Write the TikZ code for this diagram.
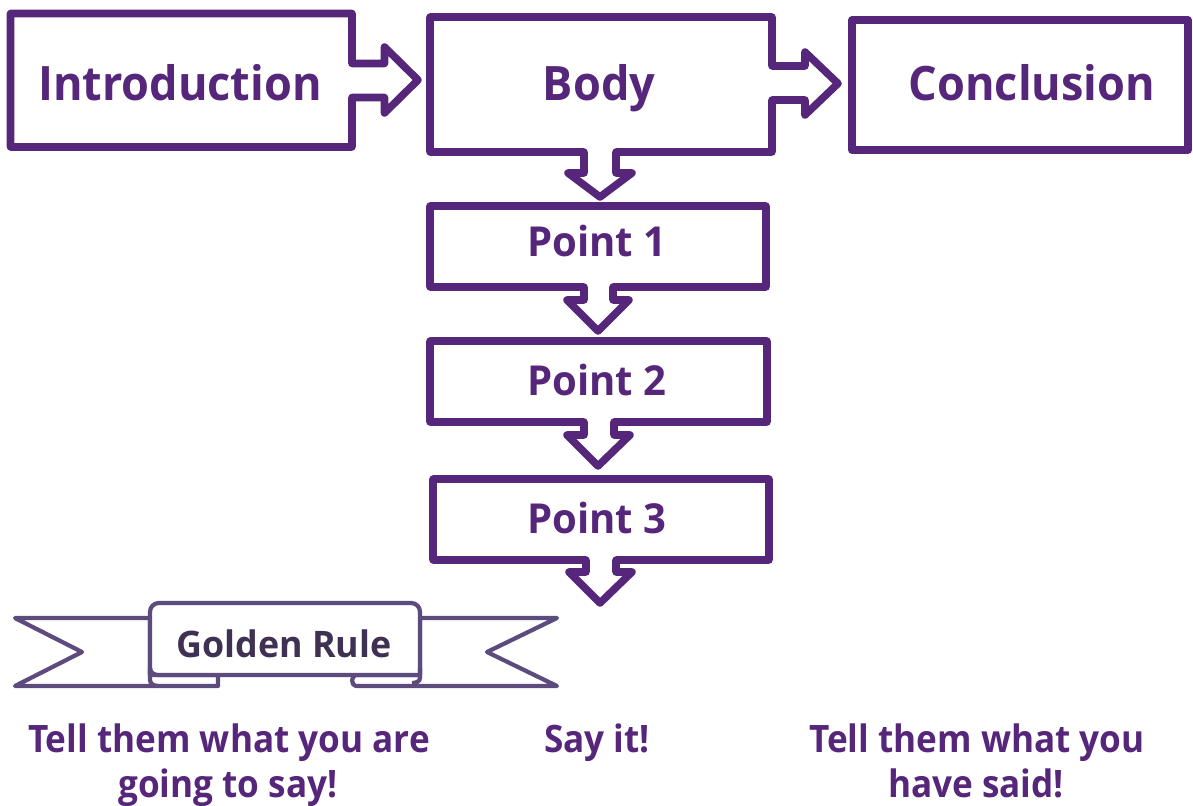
\documentclass[tikz,border=0pt]{standalone}
\usepackage{fontspec}
\setmainfont{Open Sans}
\definecolor{vio}{RGB}{86,38,122}
\definecolor{ribbon}{RGB}{94,75,126}
\definecolor{ribbontext}{RGB}{63,49,81}
\tikzset{
  box/.style={draw=vio, line width=4.3pt, line join=round, fill=white},
  band/.style={draw=ribbon, line width=2.4pt, line join=round, fill=white},
  bigtxt/.style={text=vio, font=\bfseries\fontsize{27}{32}\selectfont, anchor=base, inner sep=0pt, xscale=0.95},
  pttxt/.style={text=vio, font=\bfseries\fontsize{23.5}{28}\selectfont, anchor=base, inner sep=0pt, xscale=0.97},
  ruletxt/.style={text=ribbontext, font=\bfseries\fontsize{20.8}{24}\selectfont, anchor=base, inner sep=0pt, xscale=0.98},
  notetxt/.style={text=vio, font=\bfseries\fontsize{21.5}{26}\selectfont, anchor=base, inner sep=0pt, xscale=0.93},
}
\begin{document}
\begin{tikzpicture}[x=0.02cm, y=-0.02cm]
\useasboundingbox (0,0) rectangle (1193,805);

% Introduction with right arrow callout
\draw[box] (10.5,13.5) -- (352,13.5) -- (352,63.5) -- (384.5,63.5) -- (384.5,47)
  -- (418,80) -- (384.5,113) -- (384.5,97.5) -- (352,97.5) -- (352,147) -- (10.5,147) -- cycle;
% Body with right and down arrow callouts
\draw[box] (430,17) -- (772,17) -- (772,66) -- (805,66) -- (805,52) -- (838,83.5)
  -- (805,115) -- (805,100) -- (772,100) -- (772,152) -- (616,152) -- (616,173)
  -- (632,173) -- (600,197) -- (568,173) -- (584,173) -- (584,152) -- (430,152) -- cycle;
% Conclusion
\draw[box] (852,20) rectangle (1188,150);
% Points with down arrow callouts
\draw[box] (430,206) -- (766,206) -- (766,287) -- (613,287) -- (613,300) -- (629,300)
  -- (598,331) -- (567,300) -- (584,300) -- (584,287) -- (430,287) -- cycle;
\draw[box] (430,341) -- (767,341) -- (767,422) -- (614,422) -- (614,435) -- (630,435)
  -- (598,466) -- (567,435) -- (584,435) -- (584,422) -- (430,422) -- cycle;
\draw[box] (433,479) -- (769,479) -- (769,560) -- (616,560) -- (616,572) -- (632,572)
  -- (600,603) -- (569,572) -- (586,572) -- (586,560) -- (433,560) -- cycle;

\node[bigtxt] (intro) at (180,100) {Introduction};
\node[bigtxt] (body)  at (599,100) {Body};
\node[bigtxt] (concl) at (1032,100) {Conclusion};
\node[pttxt] (p1) at (597,256) {Point 1};
\node[pttxt] (p2) at (597,395) {Point 2};
\node[pttxt] (p3) at (597,533) {Point 3};

% Golden Rule ribbon: wings, centre panel, folds
\draw[band] (150,618) -- (15,618) -- (82,652) -- (15,686) -- (218,686) -- (218,675) -- (150,675) -- cycle;
\draw[band] (420,618) -- (557,618) -- (487,652) -- (557,686) -- (356,686)
  to[out=180,in=180,looseness=1.2] (356,675) -- (420,675) -- cycle;
\draw[band, rounded corners=5pt] (150,675) -- (150,603) -- (420,603) -- (420,675);
\draw[band, fill=none] (150,668) -- (150,680) to[out=-90,in=180] (158,686);
\draw[band, fill=none] (150,668) to[out=-90,in=180] (158,675) -- (420,675);
\draw[band, fill=none] (420,668) -- (420,678) to[out=-90,in=0] (412,683);
\node[ruletxt] (golden) at (284,657) {Golden Rule};

% Notes under the diagram
\node[notetxt] (t1a) at (229,752) {Tell them what you are};
\node[notetxt] (t1b) at (228,797) {going to say!};
\node[notetxt] (t2)  at (597,752) {Say it!};
\node[notetxt] (t3a) at (977,752) {Tell them what you};
\node[notetxt] (t3b) at (976,797) {have said!};
\end{tikzpicture}
\end{document}
